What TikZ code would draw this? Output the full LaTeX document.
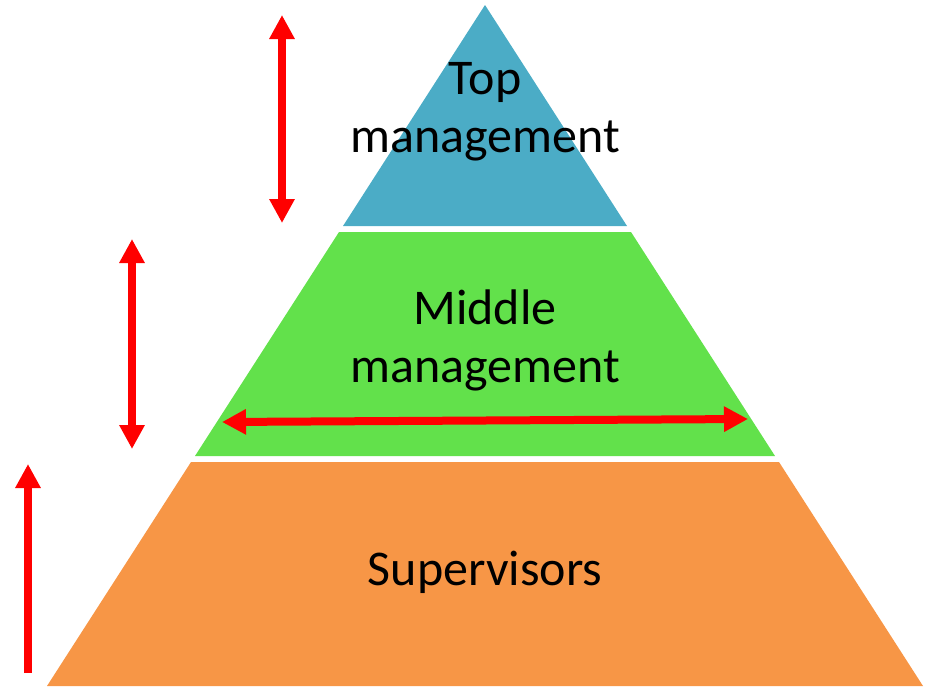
\documentclass[tikz,border=0pt]{standalone}
\usepackage{fontspec}
\setmainfont{Carlito}
\usetikzlibrary{arrows.meta}
\definecolor{topblue}{HTML}{4BACC6}
\definecolor{midgreen}{HTML}{62E14B}
\definecolor{suporange}{HTML}{F79646}

\begin{document}
\begin{tikzpicture}[x=1pt,y=-1pt]

\tikzset{layer text/.style={
    font=\fontsize{50}{58}\selectfont, align=center, inner sep=0pt, anchor=base
  },
  red arrow/.style={draw=red, line width=8pt,
    {Triangle[width=24pt,length=24pt]}-{Triangle[width=24pt,length=24pt]}
  },
  up arrow/.style={draw=red, line width=8pt, -{Triangle[width=24pt,length=24pt]}}
}
\useasboundingbox (0,0) rectangle (928,688);

% the three layers
\fill[topblue] (485,5) -- (627,226) -- (343,226) -- cycle;
\fill[midgreen] (339,232) -- (631,232) -- (775,456) -- (195,456) -- cycle;
\fill[suporange] (191,462) -- (779,462) -- (923,686) -- (47,686) -- cycle;

% base of the last line
\node[layer text] (top) at (485,152) {Top\\management};
\node[layer text] (middle) at (485,382) {Middle\\management};
\node[layer text] (sup) at (485,585) {Supervisors};

% arrows
\coordinate (t1) at (282,15);  \coordinate (t2) at (282,223);
\coordinate (m1) at (132,239); \coordinate (m2) at (132,449);
\coordinate (h1) at (222,422); \coordinate (h2) at (748,419);
\coordinate (s1) at (28,673);  \coordinate (s2) at (28,464);
\draw[red arrow] (t1) -- (t2);
\draw[red arrow] (m1) -- (m2);
\draw[red arrow] (h1) -- (h2);
\draw[up arrow] (s1) -- (s2);

\end{tikzpicture}
\end{document}
